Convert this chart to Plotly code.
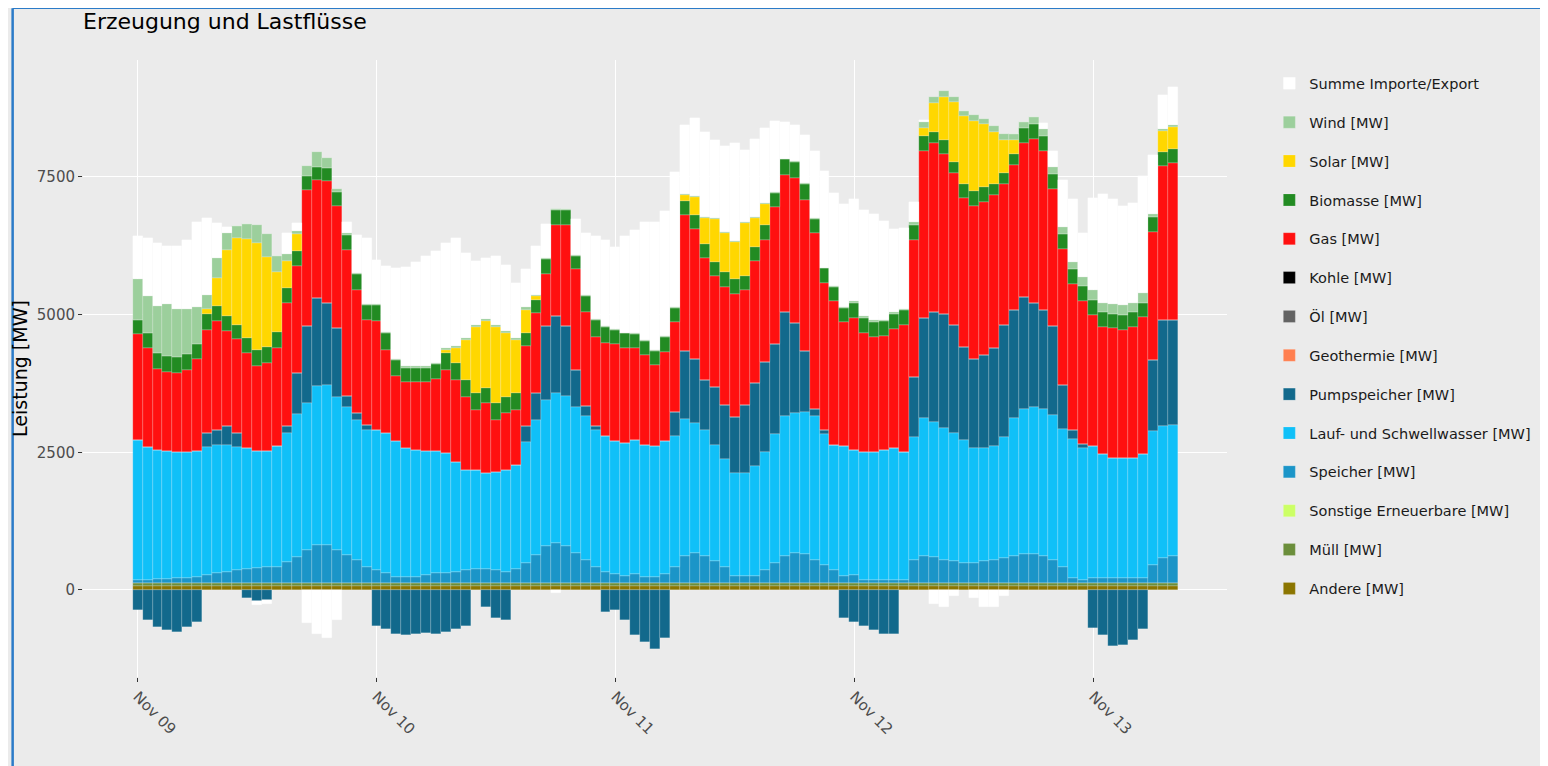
import pandas as pd
import plotly.graph_objects as go

# hourly timestamps (bars centred on the full hour)
times = pd.date_range("2020-11-09 00:00", periods=105, freq="h")

# ---- series values in MW ----
andere = [70] * 105          # constant thin band
muell = [50] * 105
sonstige = [10] * 105
kohle = [0] * 105
oel = [0] * 105
geothermie = [0] * 105

speicher = [
    50, 60, 70, 70, 80, 80, 110, 140, 170, 200, 230, 250, 270, 280, 290, 370, 470, 590, 690, 690, 600, 510, 415, 290,
    230, 170, 110, 110, 110, 140, 170, 170, 200, 230, 260, 260, 230, 200, 260, 360, 510, 660, 720, 660, 540, 420, 290, 200,
    160, 130, 160, 100, 100, 160, 290, 490, 550, 490, 390, 290, 130, 130, 130, 230, 360, 490, 550, 520, 420, 330, 230, 130,
    150, 60, 60, 60, 60, 60, 420, 490, 470, 420, 390, 360, 360, 390, 420, 450, 490, 530, 530, 490, 420, 290, 90, 50,
    90, 90, 90, 90, 90, 90, 330, 460, 490,
]

lauf = [
    2550, 2410, 2350, 2320, 2290, 2290, 2280, 2330, 2330, 2300, 2240, 2190, 2120, 2120, 2190, 2350, 2600, 2670, 2880, 2910, 2780, 2690, 2550, 2480,
    2540, 2550, 2460, 2340, 2310, 2250, 2220, 2190, 2000, 1820, 1790, 1730, 1790, 1850, 1880, 2190, 2450, 2660, 2730, 2730, 2660, 2610, 2480, 2460,
    2410, 2410, 2440, 2410, 2380, 2410, 2380, 2480, 2350, 2280, 2120, 1960, 1860, 1860, 1990, 2150, 2350, 2540, 2540, 2580, 2610, 2380, 2280, 2350,
    2260, 2320, 2320, 2360, 2390, 2320, 2230, 2500, 2450, 2400, 2330, 2230, 2090, 2060, 2060, 2200, 2500, 2630, 2670, 2670, 2630, 2500, 2530, 2400,
    2390, 2250, 2180, 2180, 2180, 2250, 2420, 2390, 2370,
]

pumpspeicher = [
    -360, -550, -670, -730, -760, -670, -580, 250, 280, 340, 250, -150, -200, -180, 0, 120, 740, 1400, 1600, 1480, 1250, 200, 120, 100,
    -660, -700, -800, -820, -800, -780, -800, -760, -700, -650, 0, -300, -500, -550, 0, 300, 485, 1340, 1395, 1275, 670, 180, 70, -400,
    -360, -550, -820, -950, -1080, -880, 430, 1240, 1170, 910, 1040, 980, 1030, 1240, 1500, 1630, 1630, 1890, 1630, 1110, 130, 70, 0, -500,
    -590, -660, -730, -800, -800, 0, 1080, 1820, 1990, 2060, 1960, 1690, 1620, 1690, 1790, 2030, 1960, 2030, 1890, 1790, 1620, 810, 150, 70,
    -690, -820, -1020, -1000, -900, -700, 1300, 1920, 1910,
]

gas = [
    1910, 1790, 1460, 1430, 1440, 1500, 1670, 1880, 1970, 1730, 1700, 1730, 1550, 1590, 1780, 2240, 1940, 2480, 2150, 2210, 2210, 2650, 2240, 1900,
    1980, 1510, 1180, 1190, 1220, 1250, 1310, 1510, 1490, 1330, 1090, 1280, 940, 1030, 1000, 1450, 1460, 950, 1660, 1840, 1820, 1700, 1630, 1690,
    1760, 1730, 1660, 1630, 1470, 1630, 1630, 2470, 2350, 2220, 2020, 2150, 2230, 2090, 2220, 2220, 2480, 2480, 2640, 2740, 3190, 2670, 2610, 2250,
    2400, 2160, 2090, 2060, 2160, 2300, 2500, 3040, 3070, 2900, 2770, 2700, 2770, 2770, 2770, 2560, 2630, 2800, 2970, 2900, 2490, 2470, 2650, 2600,
    2390, 2310, 2350, 2330, 2370, 2480, 2320, 2800, 2850,
]

biomasse = [
    270, 280, 300, 300, 290, 280, 280, 280, 270, 270, 270, 280, 290, 290, 290, 280, 280, 250, 240, 250, 260, 270, 280, 280,
    300, 300, 300, 270, 270, 270, 270, 300, 300, 300, 300, 270, 300, 300, 300, 240, 240, 270, 270, 270, 240, 300, 300, 300,
    260, 260, 260, 260, 260, 260, 260, 260, 260, 260, 260, 260, 260, 260, 260, 260, 260, 290, 290, 290, 260, 260, 260, 260,
    270, 270, 270, 270, 270, 270, 270, 270, 200, 270, 200, 270, 270, 270, 200, 200, 200, 270, 270, 270, 270, 270, 270, 270,
    270, 270, 270, 270, 270, 270, 270, 260, 260,
]

solar = [
    0, 0, 0, 0, 0, 0, 0, 100, 520, 1210, 1580, 1790, 1940, 1640, 1090, 490, 300, 0, 0, 0, 0, 0, 0, 0,
    0, 0, 0, 0, 0, 0, 0, 60, 270, 730, 1210, 1210, 1390, 1150, 970, 420, 60, 0, 0, 0, 0, 0, 0, 0,
    0, 0, 0, 0, 0, 0, 0, 100, 330, 460, 780, 720, 680, 950, 520, 390, 0, 0, 0, 0, 0, 0, 0, 0,
    0, 0, 0, 0, 0, 0, 0, 140, 540, 780, 1080, 1220, 1280, 1150, 950, 610, 270, 0, 0, 0, 0, 0, 0, 0,
    0, 0, 0, 0, 0, 0, 0, 380, 400,
]

wind = [
    730, 670, 850, 940, 880, 820, 660, 240, 360, 300, 210, 270, 330, 420, 300, 120, 60, 180, 270, 180, 60, 30, 20, 10,
    20, 20, 20, 20, 20, 20, 20, 40, 40, 40, 40, 40, 40, 40, 40, 40, 20, 20, 20, 20, 20, 20, 20, 20,
    15, 15, 15, 15, 15, 15, 15, 15, 15, 15, 15, 15, 15, 15, 15, 15, 15, 15, 15, 15, 15, 15, 15, 15,
    30, 30, 30, 30, 30, 30, 60, 100, 100, 100, 100, 100, 100, 100, 100, 100, 100, 100, 130, 130, 130, 130, 130, 170,
    170, 170, 170, 170, 170, 170, 60, 30, 30,
]

importe = [
    790, 1060, 1150, 1060, 1130, 1260, 1550, 1400, 640, 120, 0, 0, -80, -80, 0, 390, 150, -600, -790, -880, -545, 200, 700, 1200,
    800, 1200, 1650, 1800, 1890, 2010, 2040, 1910, 1960, 1540, 1150, 1110, 1240, 1210, 1000, 690, 890, 620, -50, 0, 650, 1130, 1500, 1560,
    1490, 1750, 1880, 2140, 2330, 2270, 2460, 1250, 1420, 1550, 1420, 1550, 1780, 1320, 1420, 1360, 1290, 670, 640, 870, 1220, 1750, 1680, 1880,
    1860, 1930, 1930, 1790, 1520, 1460, 350, 40, -250, -300, -100, 0, -150, -300, -300, -100, 0, 0, 0, 100, 280, 840, 1150, 800,
    1670, 1970, 1910, 1800, 1820, 2130, 1070, 620, 690,
]

# stacking order (bottom -> top)
series = [
    ("Andere [MW]", andere, "#8B7500"),
    ("Müll [MW]", muell, "#6B8E3B"),
    ("Sonstige Erneuerbare [MW]", sonstige, "#CCFF66"),
    ("Speicher [MW]", speicher, "#1B95C8"),
    ("Lauf- und Schwellwasser [MW]", lauf, "#10C0F8"),
    ("Pumpspeicher [MW]", pumpspeicher, "#12698C"),
    ("Geothermie [MW]", geothermie, "#FF7F50"),
    ("Öl [MW]", oel, "#636363"),
    ("Kohle [MW]", kohle, "#000000"),
    ("Gas [MW]", gas, "#FF1010"),
    ("Biomasse [MW]", biomasse, "#228B22"),
    ("Solar [MW]", solar, "#FFD700"),
    ("Wind [MW]", wind, "#9CCF9C"),
    ("Summe Importe/Export", importe, "#FFFFFF"),
]

fig = go.Figure()
n = len(series)
for i, (name, vals, col) in enumerate(series):
    fig.add_trace(go.Bar(
        x=times, y=vals, name=name, legendgroup=name,
        legendrank=100 + (n - i),
        marker=dict(color=col, line=dict(width=0.4, color="rgba(255,255,255,0.45)")),
    ))

FONT = "DejaVu Sans, Verdana, sans-serif"
BG = "#EBEBEB"

fig.update_layout(
    width=1540, height=758,
    barmode="relative", bargap=0,
    paper_bgcolor=BG, plot_bgcolor=BG,
    margin=dict(l=72, r=313, t=52, b=89),
    font=dict(family=FONT, size=14, color="#4D4D4D"),
    title=dict(text="Erzeugung und Lastflüsse", x=0.0487, xref="container", xanchor="left",
               y=0.992, yref="container", yanchor="top",
               font=dict(family=FONT, size=22, color="#000000")),
    legend=dict(x=1.037, y=0.988, xanchor="left", yanchor="top",
                traceorder="grouped", tracegroupgap=17,
                bgcolor="rgba(0,0,0,0)",
                font=dict(family=FONT, size=14.5, color="#1A1A1A")),
    showlegend=True,
)

fig.update_xaxes(
    type="date",
    range=["2020-11-08 18:31", "2020-11-13 13:26"],
    tickvals=pd.date_range("2020-11-09", periods=5, freq="D"),
    tickformat="%b %d", tickangle=45,
    ticks="outside", ticklen=4, tickcolor="#333333", tickwidth=1,
    showgrid=True, gridcolor="#FFFFFF", gridwidth=1.3,
    zeroline=False, showline=False,
    tickfont=dict(family=FONT, size=15, color="#4D4D4D"),
)
fig.update_yaxes(
    range=[-1580, 9624],
    tickvals=[0, 2500, 5000, 7500],
    ticks="outside", ticklen=4, tickcolor="#333333", tickwidth=1,
    showgrid=True, gridcolor="#FFFFFF", gridwidth=1.3,
    zeroline=False, showline=False,
    tickfont=dict(family=FONT, size=15, color="#4D4D4D"),
    title=dict(text="Leistung [MW]", standoff=4,
               font=dict(family=FONT, size=19, color="#000000")),
)

# blue screenshot frame (top and left edge)
fig.add_shape(type="line", xref="paper", yref="paper",
              x0=-0.0615, x1=1.275, y0=1.0838, y1=1.0838,
              line=dict(color="#2B7BC8", width=1.5))
fig.add_shape(type="line", xref="paper", yref="paper",
              x0=-0.0615, x1=-0.0615, y0=1.0838, y1=-0.15,
              line=dict(color="#2B7BC8", width=2.5))

fig.write_html("out.html")
